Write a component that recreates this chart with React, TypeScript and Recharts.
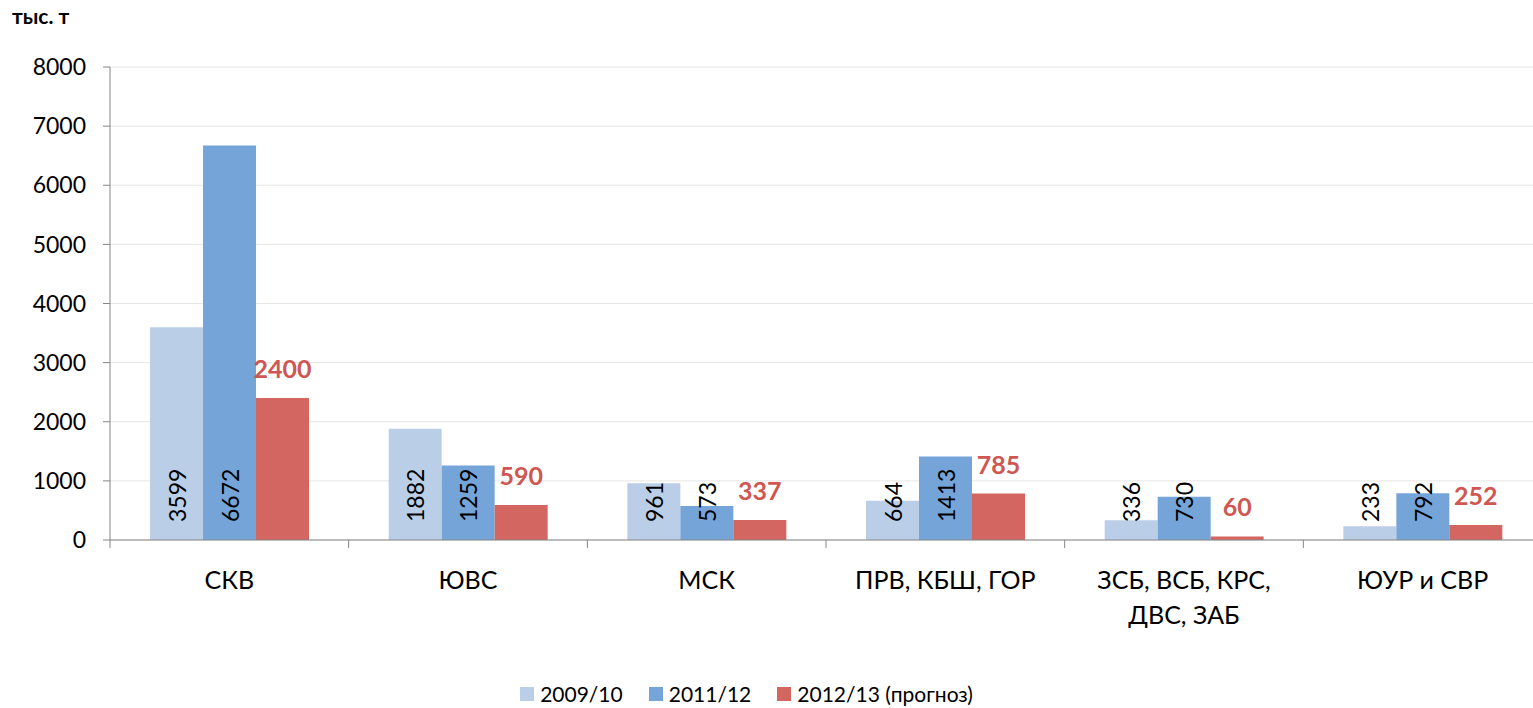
import React from "react";
import {
  BarChart,
  Bar,
  XAxis,
  YAxis,
  CartesianGrid,
  Legend,
  LabelList,
} from "recharts";

const categories = [
  "СКВ",
  "ЮВС",
  "МСК",
  "ПРВ, КБШ, ГОР",
  "ЗСБ, ВСБ, КРС,\nДВС, ЗАБ",
  "ЮУР и СВР",
];
const s2009 = [3599, 1882, 961, 664, 336, 233];
const s2011 = [6672, 1259, 573, 1413, 730, 792];
const s2012 = [2400, 590, 337, 785, 60, 252];
const yTicks = [0, 1000, 2000, 3000, 4000, 5000, 6000, 7000, 8000];

const seriesNames = ["2009/10", "2011/12", "2012/13 (прогноз)"];
const colors = ["#bacfe7", "#75a5d8", "#d46661"];

const FONT = "Lato, 'Open Sans', sans-serif";
const CHART_W = 1560;
const PLOT_LEFT = 110;
const PLOT_RIGHT_MARGIN = 18;
const HALF_BAND = (CHART_W - PLOT_LEFT - PLOT_RIGHT_MARGIN) / categories.length / 2;

const data = categories.map((c, i) => ({
  name: c,
  a: s2009[i],
  b: s2011[i],
  c: s2012[i],
}));

function InsideBaseLabel(props: any) {
  const { x, y, width, height, value } = props;
  const cx = x + width / 2;
  const base = y + height - 18;
  return (
    <text
      x={cx}
      y={base}
      transform={`rotate(-90 ${cx} ${base})`}
      textAnchor="start"
      dominantBaseline="central"
      fontFamily={FONT}
      fontSize={23}
      fill="#000"
    >
      {value}
    </text>
  );
}

function TopLabel(props: any) {
  const { x, y, width, value } = props;
  return (
    <text
      x={x + width / 2}
      y={y - 20}
      textAnchor="middle"
      fontFamily={FONT}
      fontSize={25}
      fontWeight="bold"
      fill="#cf5752"
    >
      {value}
    </text>
  );
}

function CategoryTick(props: any) {
  const { x, y, payload } = props;
  const lines = String(payload.value).split("\n");
  return (
    <g>
      <line x1={x - HALF_BAND} x2={x - HALF_BAND} y1={y - 8} y2={y} stroke="#868686" />
      {lines.map((l, i) => (
        <text
          key={i}
          x={x}
          y={y + 31 + i * 35}
          textAnchor="middle"
          dominantBaseline="central"
          fontFamily={FONT}
          fontSize={25}
          fill="#000"
        >
          {l}
        </text>
      ))}
    </g>
  );
}

function LegendContent() {
  return (
    <div
      style={{
        display: "flex",
        justifyContent: "center",
        alignItems: "center",
        fontFamily: FONT,
        fontSize: 21,
        lineHeight: "22px",
        color: "#000",
        marginLeft: -40,
      }}
    >
      {seriesNames.map((n, i) => (
        <div key={n} style={{ display: "flex", alignItems: "center", marginRight: i < 2 ? 26 : 0 }}>
          <span
            style={{
              display: "inline-block",
              width: 14,
              height: 14,
              background: colors[i],
              marginRight: 6,
            }}
          />
          <span>{n}</span>
        </div>
      ))}
    </div>
  );
}

export default function App() {
  return (
    <div
      style={{
        position: "fixed",
        left: 0,
        top: 0,
        width: 1533,
        height: 708,
        overflow: "hidden",
        background: "#fff",
      }}
    >
      <div
        style={{
          position: "absolute",
          left: 12,
          top: 3,
          fontFamily: FONT,
          fontWeight: "bold",
          fontSize: 21,
          color: "#000",
        }}
      >
        тыс. т
      </div>
      <BarChart
        width={CHART_W}
        height={708}
        data={data}
        margin={{ top: 67, right: PLOT_RIGHT_MARGIN, left: 0, bottom: 68 }}
        barSize={53}
        barGap={0}
      >
        <CartesianGrid stroke="#e6e6e6" vertical={false} />
        <XAxis
          dataKey="name"
          height={100}
          interval={0}
          stroke="#868686"
          tickLine={false}
          tick={<CategoryTick />}
        />
        <YAxis
          domain={[0, 8000]}
          ticks={yTicks}
          width={PLOT_LEFT}
          stroke="#868686"
          tickSize={7}
          tick={{ fontFamily: FONT, fontSize: 23, fill: "#000" }}
          tickMargin={17}
        />
        <Legend
          layout="horizontal"
          verticalAlign="middle"
          content={<LegendContent />}
          wrapperStyle={{ top: 683, left: 0, width: 1533 }}
        />
        <Bar dataKey="a" name={seriesNames[0]} fill={colors[0]} isAnimationActive={false}>
          <LabelList dataKey="a" content={<InsideBaseLabel />} />
        </Bar>
        <Bar dataKey="b" name={seriesNames[1]} fill={colors[1]} isAnimationActive={false}>
          <LabelList dataKey="b" content={<InsideBaseLabel />} />
        </Bar>
        <Bar dataKey="c" name={seriesNames[2]} fill={colors[2]} isAnimationActive={false}>
          <LabelList dataKey="c" content={<TopLabel />} />
        </Bar>
      </BarChart>
    </div>
  );
}
